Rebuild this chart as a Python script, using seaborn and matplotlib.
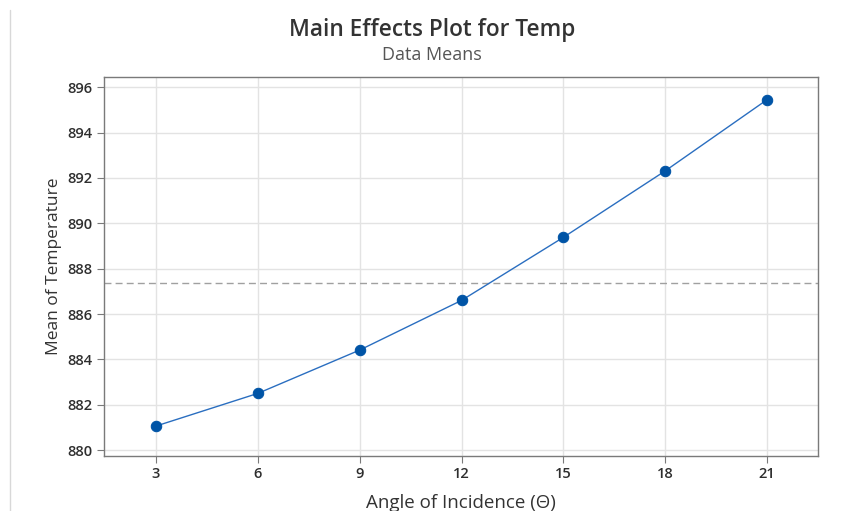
import matplotlib
matplotlib.use("Agg")
import matplotlib.pyplot as plt
import seaborn as sns
import pandas as pd
from matplotlib.lines import Line2D

# Data: mean temperature at each angle of incidence
angles = [3, 6, 9, 12, 15, 18, 21]
mean_temp = [881.06, 882.50, 884.41, 886.60, 889.38, 892.31, 895.45]
y_ticks = [880, 882, 884, 886, 888, 890, 892, 894, 896]

df = pd.DataFrame({"angle": angles, "temp": mean_temp})
grand_mean = sum(mean_temp) / len(mean_temp)

sns.set_theme(style="whitegrid")
plt.rcParams["font.family"] = ["Open Sans", "DejaVu Sans"]

fig = plt.figure(figsize=(8.44, 5.11), dpi=100)
ax = fig.add_axes([104 / 844, 1 - 456 / 511, 714 / 844, 379 / 511])

sns.lineplot(data=df, x="angle", y="temp", ax=ax, color="#2A6EC0", linewidth=1.0,
             marker="o", markersize=7.5, markerfacecolor="#0054A6",
             markeredgecolor="#0054A6")
ax.axhline(grand_mean, color="#A0A0A0", linestyle=(0, (5, 3)), linewidth=1.0, zorder=1)

ax.set_xlim(1.47, 22.5)
ax.set_ylim(879.74, 896.45)
ax.set_xticks(angles)
ax.set_yticks(y_ticks)
ax.tick_params(axis="both", labelsize=10.5, colors="#7A7A7A", labelcolor="#2E2E2E",
               length=5, width=0.8, direction="out", bottom=True, left=True, pad=3)
for lbl in ax.get_xticklabels() + ax.get_yticklabels():
    lbl.set_fontweight("semibold")
ax.grid(True, color="#E3E3E3", linewidth=1.0)
for s in ax.spines.values():
    s.set_color("#7A7A7A")
    s.set_linewidth(1.0)

ax.set_xlabel("Angle of Incidence (Θ)", fontsize=13.5, color="#333333", labelpad=9)
ax.set_ylabel("Mean of Temperature", fontsize=12.5, color="#333333", labelpad=4)

fig.text(432 / 844, 1 - 30 / 511, "Main Effects Plot for Temp", ha="center", va="center",
         fontsize=16.3, fontweight="semibold", color="#333333")
fig.text(432 / 844, 1 - 55 / 511, "Data Means", ha="center", va="center",
         fontsize=13, color="#555555")

# thin border line at the left edge of the canvas
fig.add_artist(Line2D([10 / 844, 10 / 844], [0, 1 - 10 / 511], transform=fig.transFigure,
                      color="#D8D8D8", linewidth=1.0))

fig.savefig("out.png", dpi=100)
